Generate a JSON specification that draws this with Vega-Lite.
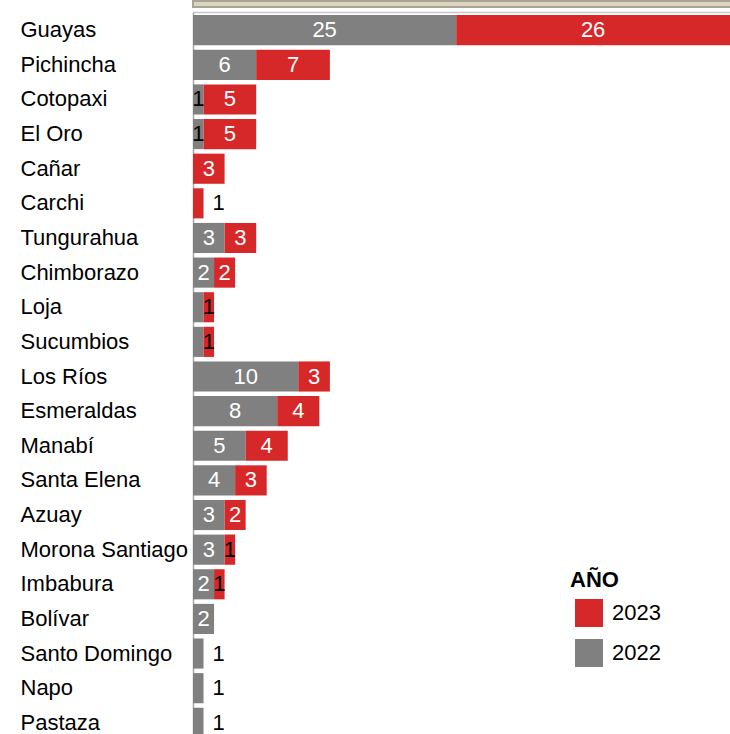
{
  "$schema": "https://vega.github.io/schema/vega-lite/v6.json",
  "padding": 0,
  "autosize": {"type": "pad"},
  "background": "white",
  "spacing": 4,
  "config": {"font": "Liberation Sans", "text": {"font": "Liberation Sans"}},
  "vconcat": [
    {
      "width": 730,
      "height": 6,
      "view": {"fill": "#ddd4c0", "stroke": "#a8a596", "strokeWidth": 2},
      "data": {"values": []},
      "mark": "rect",
      "encoding": {}
    },
    {
      "width": 537,
      "height": 729,
      "view": {"stroke": null},
      "data": {
        "values": [
          {"provincia": "Guayas", "anio": "2022", "valor": 25},
          {"provincia": "Guayas", "anio": "2023", "valor": 26},
          {"provincia": "Pichincha", "anio": "2022", "valor": 6},
          {"provincia": "Pichincha", "anio": "2023", "valor": 7},
          {"provincia": "Cotopaxi", "anio": "2022", "valor": 1},
          {"provincia": "Cotopaxi", "anio": "2023", "valor": 5},
          {"provincia": "El Oro", "anio": "2022", "valor": 1},
          {"provincia": "El Oro", "anio": "2023", "valor": 5},
          {"provincia": "Cañar", "anio": "2023", "valor": 3},
          {"provincia": "Carchi", "anio": "2023", "valor": 1},
          {"provincia": "Tungurahua", "anio": "2022", "valor": 3},
          {"provincia": "Tungurahua", "anio": "2023", "valor": 3},
          {"provincia": "Chimborazo", "anio": "2022", "valor": 2},
          {"provincia": "Chimborazo", "anio": "2023", "valor": 2},
          {"provincia": "Loja", "anio": "2022", "valor": 1},
          {"provincia": "Loja", "anio": "2023", "valor": 1},
          {"provincia": "Sucumbios", "anio": "2022", "valor": 1},
          {"provincia": "Sucumbios", "anio": "2023", "valor": 1},
          {"provincia": "Los Ríos", "anio": "2022", "valor": 10},
          {"provincia": "Los Ríos", "anio": "2023", "valor": 3},
          {"provincia": "Esmeraldas", "anio": "2022", "valor": 8},
          {"provincia": "Esmeraldas", "anio": "2023", "valor": 4},
          {"provincia": "Manabí", "anio": "2022", "valor": 5},
          {"provincia": "Manabí", "anio": "2023", "valor": 4},
          {"provincia": "Santa Elena", "anio": "2022", "valor": 4},
          {"provincia": "Santa Elena", "anio": "2023", "valor": 3},
          {"provincia": "Azuay", "anio": "2022", "valor": 3},
          {"provincia": "Azuay", "anio": "2023", "valor": 2},
          {"provincia": "Morona Santiago", "anio": "2022", "valor": 3},
          {"provincia": "Morona Santiago", "anio": "2023", "valor": 1},
          {"provincia": "Imbabura", "anio": "2022", "valor": 2},
          {"provincia": "Imbabura", "anio": "2023", "valor": 1},
          {"provincia": "Bolívar", "anio": "2022", "valor": 2},
          {"provincia": "Santo Domingo", "anio": "2022", "valor": 1},
          {"provincia": "Napo", "anio": "2022", "valor": 1},
          {"provincia": "Pastaza", "anio": "2022", "valor": 1}
        ]
      },
      "transform": [
        {"stack": "valor", "groupby": ["provincia"], "sort": [{"field": "anio", "order": "ascending"}], "as": ["x0", "x1"]},
        {"joinaggregate": [{"op": "sum", "field": "valor", "as": "total"}], "groupby": ["provincia"]},
        {"calculate": "(datum.x0 + datum.x1) / 2", "as": "xm"}
      ],
      "encoding": {
        "y": {
          "field": "provincia",
          "type": "nominal",
          "sort": ["Guayas", "Pichincha", "Cotopaxi", "El Oro", "Cañar", "Carchi", "Tungurahua", "Chimborazo", "Loja", "Sucumbios", "Los Ríos", "Esmeraldas", "Manabí", "Santa Elena", "Azuay", "Morona Santiago", "Imbabura", "Bolívar", "Santo Domingo", "Napo", "Pastaza"],
          "scale": {"paddingInner": 0.13, "paddingOuter": 0.09},
          "axis": {
            "title": null,
            "orient": "left",
            "labelAlign": "left",
            "labelPadding": -19,
            "labelFontSize": 22,
            "labelColor": "black",
            "labelFont": "Liberation Sans",
            "labelLimit": 0,
            "ticks": true,
            "tickSize": 192,
            "tickColor": "transparent",
            "domain": true,
            "domainColor": "#a6a6a6",
            "domainWidth": 1.5,
            "grid": false
          }
        }
      },
      "layer": [
        {
          "mark": {"type": "bar", "strokeWidth": 0},
          "encoding": {
            "x": {
              "field": "x0",
              "type": "quantitative",
              "scale": {"domain": [0, 51], "nice": false},
              "axis": {"orient": "top", "title": null, "labels": false, "ticks": false, "grid": false, "domain": true, "domainColor": "#c8c8c8", "domainWidth": 1.5}
            },
            "x2": {"field": "x1"},
            "color": {
              "field": "anio",
              "type": "nominal",
              "scale": {"domain": ["2023", "2022"], "range": ["#d62828", "#808080"]},
              "legend": {
                "title": "AÑO",
                "orient": "none",
                "legendX": 377,
                "legendY": 569,
                "padding": 0,
                "titleFont": "Liberation Sans",
                "titleFontSize": 22,
                "titleFontWeight": "bold",
                "titleColor": "black",
                "titlePadding": 7,
                "labelFont": "Liberation Sans",
                "labelFontSize": 22,
                "labelColor": "black",
                "symbolType": "square",
                "symbolSize": 784,
                "symbolStrokeWidth": 0,
                "symbolOpacity": 1,
                "symbolOffset": 5,
                "labelOffset": 9,
                "rowPadding": 12
              }
            }
          }
        },
        {
          "transform": [{"filter": "datum.valor >= 2"}],
          "mark": {"type": "text", "color": "white", "fontSize": 22, "align": "center", "baseline": "middle"},
          "encoding": {
            "x": {"field": "xm", "type": "quantitative"},
            "text": {"field": "valor", "type": "quantitative"}
          }
        },
        {
          "transform": [{"filter": "datum.valor == 1 && datum.total > 1 && !(datum.anio == '2022' && datum.total == 2)"}],
          "mark": {"type": "text", "color": "black", "fontSize": 22, "align": "center", "baseline": "middle"},
          "encoding": {
            "x": {"field": "xm", "type": "quantitative"},
            "text": {"field": "valor", "type": "quantitative"}
          }
        },
        {
          "transform": [{"filter": "datum.total == 1"}],
          "mark": {"type": "text", "color": "black", "fontSize": 22, "align": "left", "baseline": "middle", "dx": 9},
          "encoding": {
            "x": {"field": "x1", "type": "quantitative"},
            "text": {"field": "valor", "type": "quantitative"}
          }
        }
      ]
    }
  ]
}
